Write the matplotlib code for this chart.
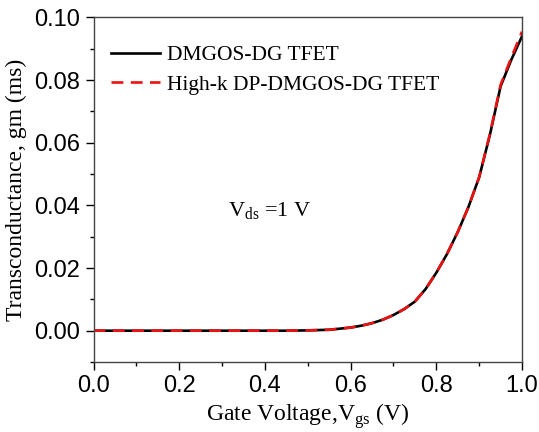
import matplotlib
matplotlib.use('Agg')
import matplotlib.pyplot as plt
from matplotlib.ticker import MultipleLocator, FormatStrFormatter

# gate voltage sweep (V)
vgs = [0.00, 0.05, 0.10, 0.15, 0.20, 0.25, 0.30, 0.35, 0.40, 0.45, 0.50,
       0.55, 0.60, 0.625, 0.65, 0.675, 0.70, 0.725, 0.75, 0.775, 0.80,
       0.825, 0.85, 0.875, 0.90, 0.925, 0.95, 0.975, 1.00]
# transconductance (mS)
gm_dmgos = [0.0, 0.0, 0.0, 0.0, 0.0, 0.0, 0.0, 0.0, 0.0, 0.0, 0.0001,
            0.0003, 0.0010, 0.0016, 0.0024, 0.0035, 0.0050, 0.0069, 0.0093, 0.0133, 0.0185,
            0.0245, 0.0315, 0.0395, 0.0490, 0.0625, 0.0780, 0.0865, 0.0940]
gm_highk = [0.0, 0.0, 0.0, 0.0, 0.0, 0.0, 0.0, 0.0, 0.0, 0.0, 0.0001,
            0.0003, 0.0010, 0.0016, 0.0024, 0.0035, 0.0050, 0.0069, 0.0093, 0.0133, 0.0185,
            0.0245, 0.0315, 0.0395, 0.0490, 0.0628, 0.0785, 0.0872, 0.0955]

serif = ['Liberation Serif', 'DejaVu Serif']
sans = ['Liberation Sans', 'DejaVu Sans']

fig = plt.figure(figsize=(5.39, 4.32), dpi=100)
ax = fig.add_axes([0.1735, 0.162, 0.795, 0.7975])

ax.plot(vgs, gm_dmgos, color='black', linewidth=1.9, label='DMGOS-DG TFET')
ax.plot(vgs, gm_highk, color='#ee1111', linewidth=1.9, dashes=(4.5, 2.8),
        label='High-k DP-DMGOS-DG TFET')

ax.set_xlim(0.0, 1.0)
ax.set_ylim(-0.01, 0.10)
ax.xaxis.set_major_locator(MultipleLocator(0.2))
ax.xaxis.set_minor_locator(MultipleLocator(0.1))
ax.yaxis.set_major_locator(MultipleLocator(0.02))
ax.yaxis.set_minor_locator(MultipleLocator(0.01))
ax.xaxis.set_major_formatter(FormatStrFormatter('%.1f'))
ax.yaxis.set_major_formatter(FormatStrFormatter('%.2f'))

ax.tick_params(which='major', direction='out', length=6, width=1.0, top=False, right=False)
ax.tick_params(which='minor', direction='out', length=3, width=1.0, top=False, right=False)
for lab in ax.get_xticklabels() + ax.get_yticklabels():
    lab.set_family(sans)
    lab.set_fontsize(17)
for sp in ax.spines.values():
    sp.set_color('#444444')
    sp.set_linewidth(1.0)

ax.set_xlabel('Gate Voltage,V$_{\\mathregular{gs}}$ (V)', family=serif, fontsize=17, labelpad=3)
ax.set_ylabel('Transconductance, gm (ms)', family=serif, fontsize=17, labelpad=5)

ax.text(0.41, 0.038, 'V$_{\\mathregular{ds}}$ =1 V', family=serif, fontsize=16,
        ha='center', va='center')

ax.legend(loc='upper left', frameon=False, prop={'family': serif, 'size': 15.5},
          handlelength=2.3, handletextpad=0.3, labelspacing=0.45,
          borderaxespad=0.0, bbox_to_anchor=(0.02, 0.945))

fig.savefig('out.png', dpi=100)
